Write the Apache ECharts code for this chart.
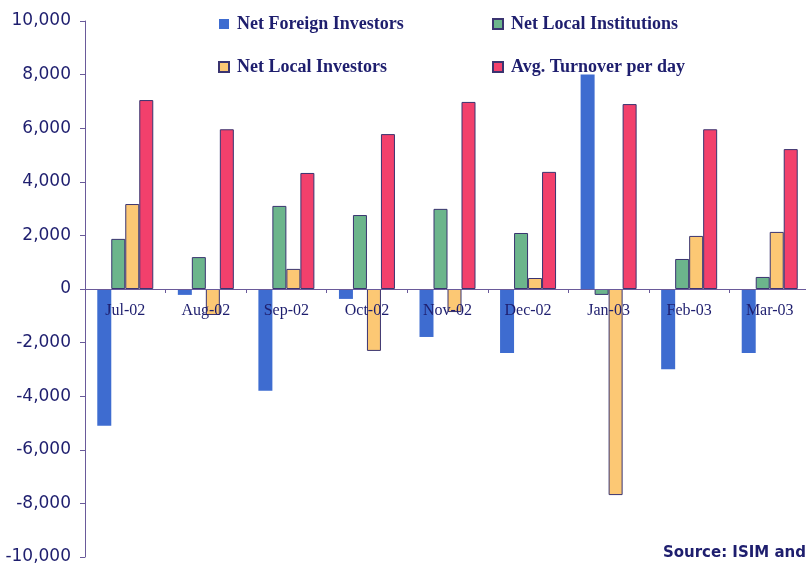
<!DOCTYPE html>
<html>
<head>
<meta charset="utf-8">
<script src="https://cdn.jsdelivr.net/npm/echarts@6/dist/echarts.min.js"></script>
<style>
html, body { margin: 0; padding: 0; background: #fff; }
#chart { width: 806px; height: 567px; }
</style>
</head>
<body>
<div id="chart"></div>
<script>
// 数据
var months = ['Jul-02', 'Aug-02', 'Sep-02', 'Oct-02', 'Nov-02', 'Dec-02', 'Jan-03', 'Feb-03', 'Mar-03'];
var foreignInvestors = [-5100, -220, -3800, -370, -1790, -2390, 8000, -2990, -2390];
var localInstitutions = [1870, 1190, 3100, 2760, 2990, 2090, -220, 1120, 450];
var localInvestors = [3170, -970, 750, -2310, -860, 410, -7690, 1980, 2130];
var avgTurnover = [7050, 5960, 4330, 5780, 6980, 4370, 6900, 5960, 5220];

(function() {
    var myChart = echarts.init(document.getElementById('chart'));
    var navy = '#1e1e6e';
    var edge = '#3a3470';
    var legendText = { fontFamily: 'Liberation Serif', fontWeight: 'bold', fontSize: 18, color: navy, padding: [0, 0, 0, 3] };

    var option = {
        animation: false,
        legend: [{
            left: 213, top: 10,
            orient: 'vertical',
            itemGap: 25,
            itemWidth: 10, itemHeight: 10,
            icon: 'rect',
            textStyle: legendText,
            data: ['Net Foreign Investors', 'Net Local Investors']
        }, {
            left: 487, top: 10,
            orient: 'vertical',
            itemGap: 25,
            itemWidth: 10, itemHeight: 10,
            icon: 'rect',
            textStyle: legendText,
            data: ['Net Local Institutions', 'Avg. Turnover per day']
        }],
        grid: { left: 85, top: 21, bottom: 10, right: -4, outerBoundsMode: 'none' },
        // x轴放在0刻度处，文字压在柱子上面
        xAxis: {
            type: 'category',
            data: months,
            offset: -268,
            z: 5,
            axisLine: { onZero: false, lineStyle: { color: '#6a5a9a', width: 1 } },
            axisTick: { show: true, length: 4, lineStyle: { color: '#6a5a9a' } },
            axisLabel: { fontFamily: 'Liberation Serif', fontSize: 16, color: navy, margin: 14 }
        },
        yAxis: {
            type: 'value',
            min: -10000, max: 10000, interval: 2000,
            splitLine: { show: false },
            axisLine: { show: true, lineStyle: { color: '#6a5a9a' } },
            axisTick: { show: true, length: 5, lineStyle: { color: '#6a5a9a' } },
            axisLabel: {
                fontFamily: 'DejaVu Sans', fontSize: 17, color: navy, margin: 14,
                formatter: function(v) { return v.toLocaleString('en-US'); }
            }
        },
        series: [{
            name: 'Net Foreign Investors', type: 'bar', barWidth: 14, barGap: '0%',
            itemStyle: { color: '#3e6cd0' },
            data: foreignInvestors
        }, {
            name: 'Net Local Institutions', type: 'bar', barWidth: 14, barGap: '0%',
            itemStyle: { color: '#6cb58c', borderColor: edge, borderWidth: 1 },
            data: localInstitutions
        }, {
            name: 'Net Local Investors', type: 'bar', barWidth: 14, barGap: '0%',
            itemStyle: { color: '#fcc874', borderColor: edge, borderWidth: 1 },
            data: localInvestors
        }, {
            name: 'Avg. Turnover per day', type: 'bar', barWidth: 14, barGap: '0%',
            itemStyle: { color: '#f2406c', borderColor: edge, borderWidth: 1 },
            data: avgTurnover
        }],
        graphic: [{
            type: 'text', right: 0, top: 546,
            style: { text: 'Source: ISIM and', fontFamily: 'DejaVu Sans', fontWeight: 'bold', fontSize: 15, fill: navy }
        }]
    };
    myChart.setOption(option);
})();
</script>
</body>
</html>
